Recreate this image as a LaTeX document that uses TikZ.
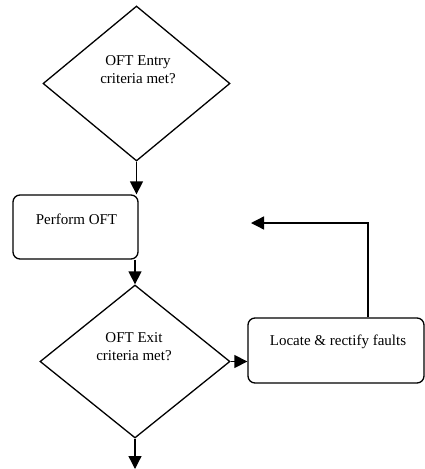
\documentclass[tikz,border=0pt]{standalone}
\usepackage{fontspec}
\setmainfont{Liberation Serif}
\usetikzlibrary{shapes.geometric,arrows.meta}

\begin{document}
\begin{tikzpicture}[
    x=1pt, y=-1pt,
    decision/.style={diamond, draw, line width=1.3pt, inner sep=0pt},
    box/.style={rectangle, draw, rounded corners=7pt, line width=1.3pt, inner sep=0pt},
    txt/.style={font=\fontsize{15}{18}\selectfont, align=center, inner sep=0pt},
    arrow/.style={line width=1.3pt, -{Triangle[length=13pt,width=13pt]}}
]
\useasboundingbox (0,0) rectangle (425,469);

% Nodes
\node[decision, minimum width=187pt, minimum height=155pt] (entry) at (136.5,83.5) {};
\node[box, minimum width=125pt, minimum height=64pt] (perform) at (75.5,227) {};
\node[decision, minimum width=190pt, minimum height=153pt] (exit) at (135,361.5) {};
\node[box, minimum width=176pt, minimum height=65pt] (locate) at (336,350.5) {};

% Texts
\node[txt] (entrytxt) at (138,70) {OFT Entry\\criteria met?};
\node[txt] (performtxt) at (76.5,219) {Perform OFT};
\node[txt] (exittxt) at (134,347) {OFT Exit\\criteria met?};
\node[txt] (locatetxt) at (338,342) {Locate \& rectify faults};

% Loose ends
\coordinate (corner) at (368,223);
\coordinate (back) at (251,223);
\coordinate (out) at (132,469);

% Arrows
\draw[arrow] (entry.south) -- (entry.south |- perform.north);
\draw[arrow] (exit.north |- perform.south) -- (exit.north);
\draw[arrow] (exit.east) -- (exit.east -| locate.west);
\draw[arrow] (corner |- locate.north) -- (corner) -- (back);
\draw[arrow] (exit.south) -- (exit.south |- out);

\end{tikzpicture}
\end{document}
